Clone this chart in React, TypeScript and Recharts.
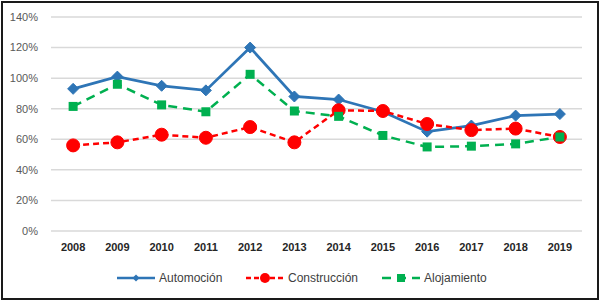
import React from 'react';
import { LineChart, Line, XAxis, YAxis, CartesianGrid, Legend } from 'recharts';

const years = ['2008', '2009', '2010', '2011', '2012', '2013', '2014', '2015', '2016', '2017', '2018', '2019'];
const automocion = [93, 101, 95, 92, 120, 88, 86, 78, 65, 69, 75.5, 76.5];
const construccion = [56, 58, 63, 61, 68, 58, 79, 78.5, 70, 66, 67, 61.5];
const alojamiento = [81.5, 96, 82.5, 78, 102.5, 78.5, 75, 62.5, 55, 55.5, 57, 61.5];
const yTicks = [0, 20, 40, 60, 80, 100, 120, 140];
const seriesNames = ['Automoción', 'Construcción', 'Alojamiento'];

const data = years.map((y, i) => ({
  year: y,
  a: automocion[i],
  c: construccion[i],
  l: alojamiento[i],
}));

const BLUE = '#2E75B6';
const RED = '#FF0000';
const GREEN = '#00B050';
const FONT = '"Liberation Sans", Arial, sans-serif';

const Diamond = (props: any) => {
  const { cx, cy, index } = props;
  if (cx == null || cy == null) return null;
  const h = 5.5;
  return <polygon key={`d${index}`} points={`${cx},${cy - h} ${cx + h},${cy} ${cx},${cy + h} ${cx - h},${cy}`} fill={BLUE} stroke={BLUE} />;
};
const Square = (props: any) => {
  const { cx, cy, index } = props;
  if (cx == null || cy == null) return null;
  const s = 4.5;
  return <rect key={`s${index}`} x={cx - s} y={cy - s} width={s * 2} height={s * 2} fill={GREEN} />;
};

const legendStyles = [
  { color: BLUE, dash: undefined as string | undefined, marker: 'diamond', left: 117 },
  { color: RED, dash: '5 3', marker: 'circle', left: 246 },
  { color: GREEN, dash: '9 6', marker: 'square', left: 382 },
];

const LegendContent = () => (
  <div style={{ position: 'relative', width: 600, height: 24 }}>
    {seriesNames.map((name, i) => {
      const st = legendStyles[i];
      return (
        <div key={name} style={{ position: 'absolute', left: st.left, top: 0, height: 24, display: 'flex', alignItems: 'center' }}>
          <svg width={38} height={14}>
            <line x1={0} y1={7} x2={38} y2={7} stroke={st.color} strokeWidth={2.5} strokeDasharray={st.dash} />
            {st.marker === 'diamond' && <polygon points="19,3.5 22.5,7 19,10.5 15.5,7" fill={st.color} />}
            {st.marker === 'circle' && <circle cx={19} cy={7} r={5} fill={st.color} />}
            {st.marker === 'square' && <rect x={15} y={3} width={8} height={8} fill={st.color} />}
          </svg>
          <span style={{ marginLeft: 4, fontFamily: FONT, fontSize: 12, color: '#404040', whiteSpace: 'nowrap' }}>{name}</span>
        </div>
      );
    })}
  </div>
);

export default function App() {
  return (
    <div style={{ position: 'absolute', left: 0, top: 0, width: 600, height: 302, background: '#fff' }}>
      <LineChart width={600} height={302} data={data} margin={{ top: 17, right: 18, left: 0, bottom: 41 }}>
        <CartesianGrid vertical={false} stroke="#D9D9D9" strokeWidth={1.5} />
        <XAxis
          dataKey="year"
          scale="band"
          height={30}
          axisLine={false}
          tickLine={false}
          tickMargin={6}
          interval={0}
          tick={{ fontFamily: FONT, fontSize: 11, fontWeight: 'bold', fill: '#262626' }}
        />
        <YAxis
          width={51}
          domain={[0, 140]}
          ticks={yTicks}
          axisLine={false}
          tickLine={false}
          tickMargin={7}
          tickFormatter={(v: number) => `${v}%`}
          tick={{ fontFamily: FONT, fontSize: 11, fill: '#595959' }}
        />
        <Legend
          verticalAlign="middle"
          align="center"
          content={<LegendContent />}
          wrapperStyle={{ left: 0, top: 266, width: 600, height: 24 }}
        />
        <Line
          name={seriesNames[0]}
          dataKey="a"
          stroke={BLUE}
          strokeWidth={2.75}
          dot={<Diamond />}
          isAnimationActive={false}
        />
        <Line
          name={seriesNames[1]}
          dataKey="c"
          stroke={RED}
          strokeWidth={2.5}
          strokeDasharray="6 4"
          dot={{ r: 6.5, fill: RED, stroke: RED, strokeWidth: 1, strokeDasharray: '' }}
          isAnimationActive={false}
        />
        <Line
          name={seriesNames[2]}
          dataKey="l"
          stroke={GREEN}
          strokeWidth={2.5}
          strokeDasharray="9 6"
          dot={<Square />}
          isAnimationActive={false}
        />
      </LineChart>
      <div style={{ position: 'absolute', left: 1, top: 1, width: 598, height: 299, border: '2px solid #1a1a1a', boxSizing: 'border-box', pointerEvents: 'none' }} />
    </div>
  );
}
